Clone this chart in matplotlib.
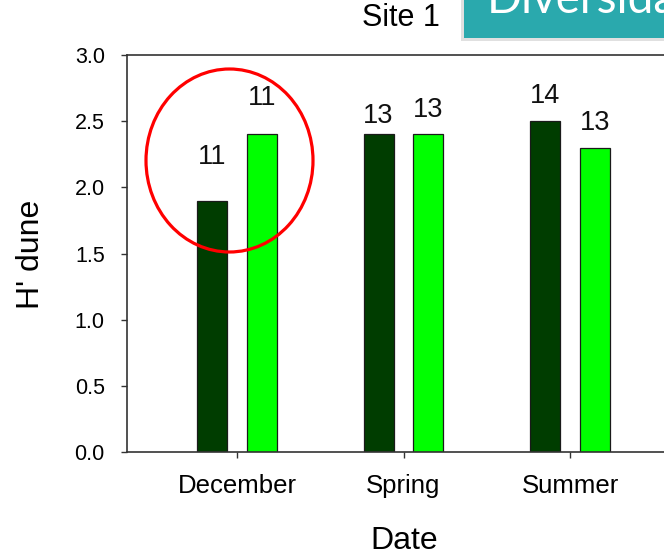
import matplotlib
matplotlib.use("Agg")
import matplotlib.pyplot as plt
from matplotlib.patches import Ellipse, Rectangle

plt.rcParams['font.family'] = ['Liberation Sans', 'DejaVu Sans']

# Shannon diversity (H') on the dune at Site 1
dates = ["December", "Spring", "Summer"]
h_first = [1.9, 2.4, 2.5]
h_second = [2.4, 2.4, 2.3]
n_first = [11, 13, 14]
n_second = [11, 13, 13]
y_ticks = [0.0, 0.5, 1.0, 1.5, 2.0, 2.5, 3.0]

# vertical offsets (pixels) for the count labels above each bar
off_first = [44, 18, 25]
off_second = [36, 24, 25]

W, H = 664, 559
fig = plt.figure(figsize=(W / 100, H / 100), dpi=100)
fig.patch.set_facecolor("white")

ax_left, ax_bottom_px, ax_top_px = 127, 452, 55
unit_px = 166.5
x_lo, x_hi = -0.6607, 2.9
ax_w_px = (x_hi - x_lo) * unit_px
ax = fig.add_axes([ax_left / W, (H - ax_bottom_px) / H,
                   ax_w_px / W, (ax_bottom_px - ax_top_px) / H])

x = list(range(len(dates)))
shift, width = 0.15, 0.18
dark, light = "#003d00", "#00ff00"
b1 = ax.bar([i - shift for i in x], h_first, width, color=dark,
            edgecolor="#1a1a1a", linewidth=0.9, zorder=2)
b2 = ax.bar([i + shift for i in x], h_second, width, color=light,
            edgecolor="#1a1a1a", linewidth=0.9, zorder=2)

for bars, counts, offs in ((b1, n_first, off_first), (b2, n_second, off_second)):
    for bar, n, o in zip(bars, counts, offs):
        ax.annotate(str(n), (bar.get_x() + bar.get_width() / 2, bar.get_height()),
                    xytext=(0, o), textcoords="offset pixels",
                    ha="center", va="center", fontsize=19.5, color="#111111")

ax.set_xlim(x_lo, x_hi)
ax.set_ylim(0, 3.0)
ax.set_xticks(x)
ax.set_xticklabels(dates)
ax.set_yticks(y_ticks)
ax.set_yticklabels([f"{v:.1f}" for v in y_ticks])
ax.tick_params(axis="both", direction="out", length=4, width=1.0, color="#333333")
ax.tick_params(axis="x", pad=12, labelsize=18.5)
ax.tick_params(axis="y", pad=12, labelsize=15.5)
for side in ("left", "bottom", "top"):
    ax.spines[side].set_color("#333333")
    ax.spines[side].set_linewidth(1.2)
ax.spines["right"].set_visible(False)

ax.set_xlabel("Date", fontsize=23)
ax.set_ylabel("H' dune", fontsize=23)
ax.xaxis.set_label_coords((404 - ax_left) / ax_w_px, -0.224)
ax.yaxis.set_label_coords((31 - ax_left) / ax_w_px, 0.499)
ax.xaxis.label.set_verticalalignment("center")
ax.yaxis.label.set_verticalalignment("center")

# highlight around the December pair
ring = Ellipse((229.5 / W, 1 - 160.5 / H), 167 / W, 183 / H, transform=fig.transFigure,
               fill=False, edgecolor="#ff0000", linewidth=2.3, zorder=5)
fig.patches.append(ring)

fig.text(401 / W, 1 - 18 / H, "Site 1", fontsize=22, ha="center", va="center")

# title banner in the corner
shadow = Rectangle((461 / W, 1 - 41 / H), 260 / W, 60 / H, transform=fig.transFigure,
                   facecolor="#000000", alpha=0.12, edgecolor="none", zorder=3)
banner = Rectangle((464 / W, 1 - 38 / H), 260 / W, 60 / H, transform=fig.transFigure,
                   facecolor="#2aa9ad", edgecolor="none", zorder=4)
fig.patches.extend([shadow, banner])
fig.text(487 / W, 1 - 13 / H, "Diversidade", fontsize=33, color="white",
         family=["Lato", "DejaVu Sans"], ha="left", va="baseline", zorder=6)

fig.savefig("out.png", dpi=100)
